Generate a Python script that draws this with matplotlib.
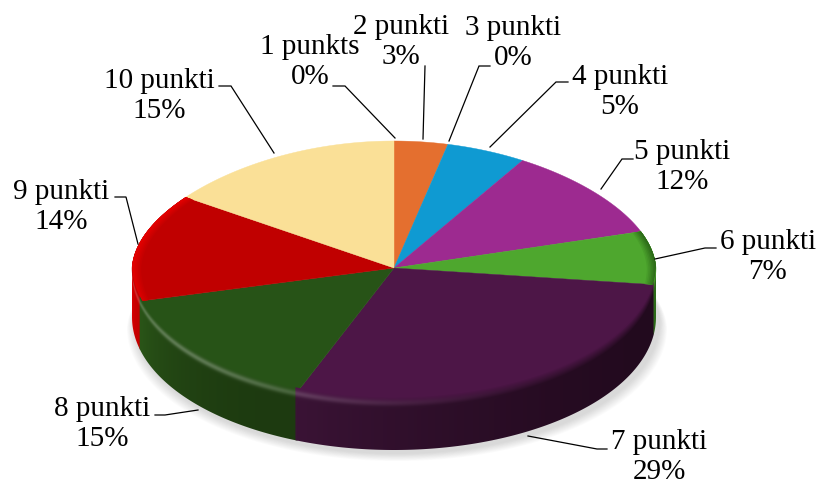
import numpy as np
import matplotlib
matplotlib.use("Agg")
import matplotlib.pyplot as plt
from matplotlib.colors import to_rgb
from matplotlib.patches import Polygon

labels = ["1 punkts", "2 punkti", "3 punkti", "4 punkti", "5 punkti",
          "6 punkti", "7 punkti", "8 punkti", "9 punkti", "10 punkti"]
values = [0, 3, 0, 5, 12, 7, 29, 15, 14, 15]
# slice sizes (the printed labels are rounded)
shares = [0, 3.4, 0, 5.0, 11.6, 7, 29, 15, 14, 15]
top_colors = ["#7f7f7f", "#e46f2f", "#0f9ad2", "#0f9ad2", "#9d2a90",
              "#4ea72e", "#4d1647", "#275317", "#c00000", "#fae097"]
# wall colour at the start and at the end of each slice (clockwise)
wall_start = ["#000000"] * 5 + ["#2c6a18", "#220a1e", "#1d3a10", "#c40000", "#fae097"]
wall_end = ["#000000"] * 5 + ["#2c6a18", "#3a1335", "#2a5518", "#e80000", "#fae097"]
rim_colors = [None, None, None, None, None, "#2c6a18", None, None, "#e40000", None]

label_xy = [(310, 62), (401, 42), (513, 43), (620, 92), (682, 167),
            (768, 257), (659, 457), (102, 424), (61, 207), (159, 96)]
leaders = [[(333, 87), (345, 87), (395, 139)],
           [(425, 67), (423, 140)],
           [(490, 67), (479, 67), (449, 142)],
           [(568, 83), (556, 83), (490, 148)],
           [(633, 160), (622, 160), (601, 190)],
           [(716, 249), (705, 249), (655, 260)],
           [(607, 450), (597, 450), (528, 437)],
           [(155, 416), (165, 416), (198, 411)],
           [(115, 198), (126, 198), (138, 245)],
           [(219, 87), (231, 87), (274, 154)]]

CX, CY = 394, 269
RX, RY_BACK, RY_FRONT = 262, 127, 133
DEPTH = 49
BLEND = 4  # px of top face the wall gradient fades into


def project(t, r=1.0):
    # t in degrees, clockwise from 12 o'clock; slight perspective, back is narrower
    t = np.radians(t)
    cos_t, sin_t = np.cos(t), np.sin(t)
    back = cos_t > 0
    ry = np.where(back, RY_BACK - 10 * sin_t ** 2, RY_FRONT)
    rx = RX * np.where(back, 1 - 0.03 * cos_t, 1.0)
    return CX + r * rx * sin_t, CY - r * ry * cos_t


def rgb(c):
    return np.array(to_rgb(c))


def mix(a, b, f):
    f = np.clip(f, 0, 1)
    return a + (b - a) * f


fig = plt.figure(figsize=(8.19, 4.85), dpi=100)
ax = fig.add_axes([0, 0, 1, 1])

# soft shadow under the pie
ts = np.linspace(0, 360, 241)
sx, sy = project(ts)
for grow in np.arange(10, 0, -1):
    ax.fill(CX + (sx - CX) * (1 + grow * 0.8 / RX) + 3, sy + DEPTH + 3 + grow * 0.8,
            color="#808080", alpha=0.03, lw=0, zorder=1)

edges = np.cumsum([0] + shares) * 3.6
front_t = np.linspace(270, 90, 721)
front_x, front_y = project(front_t)
for i in range(len(shares)):
    if shares[i] == 0:
        continue
    t0, t1 = edges[i], edges[i + 1]

    # top face
    arc = np.linspace(t0, t1, max(int(t1 - t0) * 2, 2))
    px_, py_ = project(arc)
    ax.fill(np.r_[CX, px_], np.r_[CY, py_], color=top_colors[i], lw=0.3, zorder=3)

    # blurred rim on the coloured sides
    if rim_colors[i]:
        for k, r in enumerate(np.linspace(0.965, 0.995, 6)):
            xo, yo = project(arc, 1.0)
            xi, yi = project(arc, r)
            col = mix(rgb(top_colors[i]), rgb(rim_colors[i]), (k + 1) / 6)
            ax.fill(np.r_[xo, xi[::-1]], np.r_[yo, yi[::-1]], color=tuple(col), lw=0,
                    zorder=3.2 + k * 0.01)

    # side wall on the front half: gradient image clipped to the wall shape
    w0, w1 = max(t0, 90), min(t1, 270)
    if w1 <= w0:
        continue
    gx, gy = np.meshgrid(np.arange(125.5, 670), np.arange(260.5, 460))
    g_t = np.interp(gx, front_x, front_t)
    d = gy - np.interp(gx, front_x, front_y)
    along = np.clip((g_t - w0) / (w1 - w0), 0, 1)[..., None] ** 2
    base = mix(rgb(wall_start[i]), rgb(wall_end[i]), along)
    fade = ((d + BLEND) / (BLEND + 6))[..., None]
    col = mix(rgb(top_colors[i]), base, fade)
    glow = 0.26 * np.exp(-((g_t - 232) / 45) ** 2) * np.exp(-((d - 2) / 3) ** 2)
    col = mix(col, np.ones(3), glow[..., None])
    im = ax.imshow(col, extent=(125, 670, 460, 260), origin="upper", aspect="auto",
                   interpolation="bilinear", zorder=3.5)
    # run a little past the end so neighbouring walls overlap without a seam
    arc = np.linspace(w0, min(w1 + 0.5, 270), int(w1 - w0) * 2 + 2)
    xt, yt = project(arc)
    shape = Polygon(np.c_[np.r_[xt, xt[::-1]], np.r_[yt - BLEND, yt[::-1] + DEPTH]],
                    closed=True, transform=ax.transData)
    im.set_clip_path(shape)
    im.set_zorder(3.5 - i * 0.01)

# leader lines and labels
for i, pts in enumerate(leaders):
    ax.plot([p[0] for p in pts], [p[1] for p in pts], color="black", lw=0.9, zorder=4,
            solid_joinstyle="miter")
    ax.text(label_xy[i][0], label_xy[i][1], f"{labels[i]}\n{values[i]}%", ha="center", va="center",
            family="Liberation Serif", fontsize=21, linespacing=1.2, color="black", zorder=5)

ax.set_xlim(0, 819)
ax.set_ylim(485, 0)
ax.axis("off")
fig.savefig("out.png", dpi=100)
